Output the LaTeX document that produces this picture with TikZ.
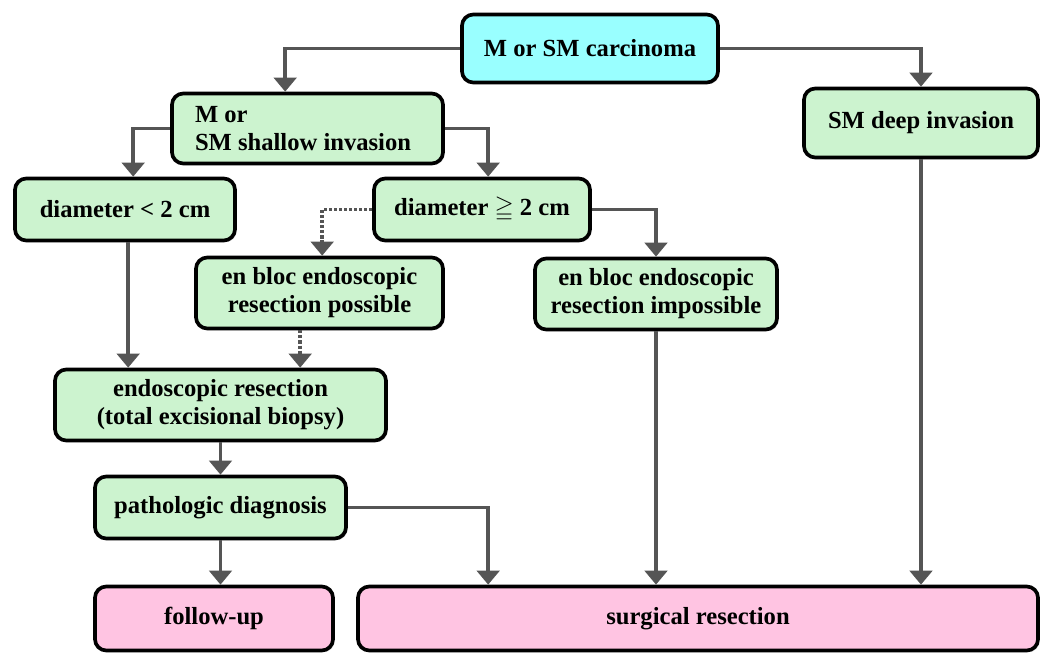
\documentclass[tikz,border=0pt]{standalone}
\usepackage{amssymb}
\usepackage{fontspec}
\setmainfont{Liberation Serif}
\usetikzlibrary{arrows.meta,calc,shadows}
\definecolor{cyanfill}{HTML}{99FFFF}
\definecolor{greenfill}{HTML}{CCF3CF}
\definecolor{pinkfill}{HTML}{FFC4E2}
\definecolor{linegray}{HTML}{555555}
\newcommand{\pxl}[1]{#1*0.025cm}
\begin{document}
\begin{tikzpicture}[x=0.025cm,y=-0.025cm,
  box/.style={draw=black,line width=2.6pt,rounded corners=8pt,fill=greenfill,
    inner sep=0pt,align=center,
    font=\fontsize{17.5}{20}\selectfont\bfseries,
    drop shadow={opacity=0.25,shadow xshift=1.2pt,shadow yshift=-1.2pt}},
  cyanbox/.style={box,fill=cyanfill},
  pinkbox/.style={box,fill=pinkfill},
  arr/.style={draw=linegray,line width=2.4pt,-{Triangle[width=16pt,length=10pt]}},
  darr/.style={arr,dash pattern=on 2.2pt off 1.4pt}]
\useasboundingbox (0,0) rectangle (1043,655);
\fill[white] (0,0) rectangle (1043,655);
% nodes
\node[cyanbox,minimum width=\pxl{256},minimum height=\pxl{68}] (top) at (590,48.5) {M or SM carcinoma};
\node[box,minimum width=\pxl{271},minimum height=\pxl{70},text width=\pxl{225},align=flush left] (shallow) at (307.5,128.5) {M or\\SM shallow invasion};
\node[box,minimum width=\pxl{234},minimum height=\pxl{69}] (deep) at (921,123) {SM deep invasion};
\node[box,minimum width=\pxl{220},minimum height=\pxl{62}] (dlt) at (125,209.5) {diameter < 2 cm};
\node[box,minimum width=\pxl{216},minimum height=\pxl{62}] (dge) at (482,209.5) {diameter $\geqq$ 2 cm};
\node[box,minimum width=\pxl{247},minimum height=\pxl{71}] (poss) at (319.5,293) {en bloc endoscopic\\resection possible};
\node[box,minimum width=\pxl{242},minimum height=\pxl{71}] (imposs) at (656,294) {en bloc endoscopic\\resection impossible};
\node[box,minimum width=\pxl{331},minimum height=\pxl{71}] (endo) at (220.5,405) {endoscopic resection\\(total excisional biopsy)};
\node[box,minimum width=\pxl{251},minimum height=\pxl{62}] (path) at (220.5,507.5) {pathologic diagnosis};
\node[pinkbox,minimum width=\pxl{238},minimum height=\pxl{64}] (follow) at (214,618.5) {follow-up};
\node[pinkbox,minimum width=\pxl{680},minimum height=\pxl{64}] (surg) at (698,618.5) {surgical resection};
% helper coordinates
\coordinate (cA) at ($(shallow.north west)+(115,0)$);
\coordinate (cB) at ($(dlt.north west)+(120,0)$);
\coordinate (cC) at ($(dge.north west)+(116,0)$);
\coordinate (cD) at ($(poss.north west)+(128,0)$);
\coordinate (cE) at ($(dlt.south west)+(115,0)$);
\coordinate (cF) at ($(poss.south west)+(106,0)$);
\coordinate (cG) at ($(surg.north west)+(132,0)$);
% connectors
\draw[arr] (top.west) -| (cA);
\draw[arr] (top.east) -| (deep.north);
\draw[arr] (shallow.west) -| (cB);
\draw[arr] (shallow.east) -| (cC);
\draw[darr] (dge.west) -| (cD);
\draw[arr] (dge.east) -| (imposs.north);
\draw[arr] (cE) -- (cE |- endo.north);
\draw[darr] (cF) -- (cF |- endo.north);
\draw[arr] (endo.south) -- (path.north);
\draw[arr] (path.south) -- (path.south |- follow.north);
\draw[arr] (path.east) -| (cG);
\draw[arr] (imposs.south) -- (imposs.south |- surg.north);
\draw[arr] (deep.south) -- (deep.south |- surg.north);
\end{tikzpicture}
\end{document}
